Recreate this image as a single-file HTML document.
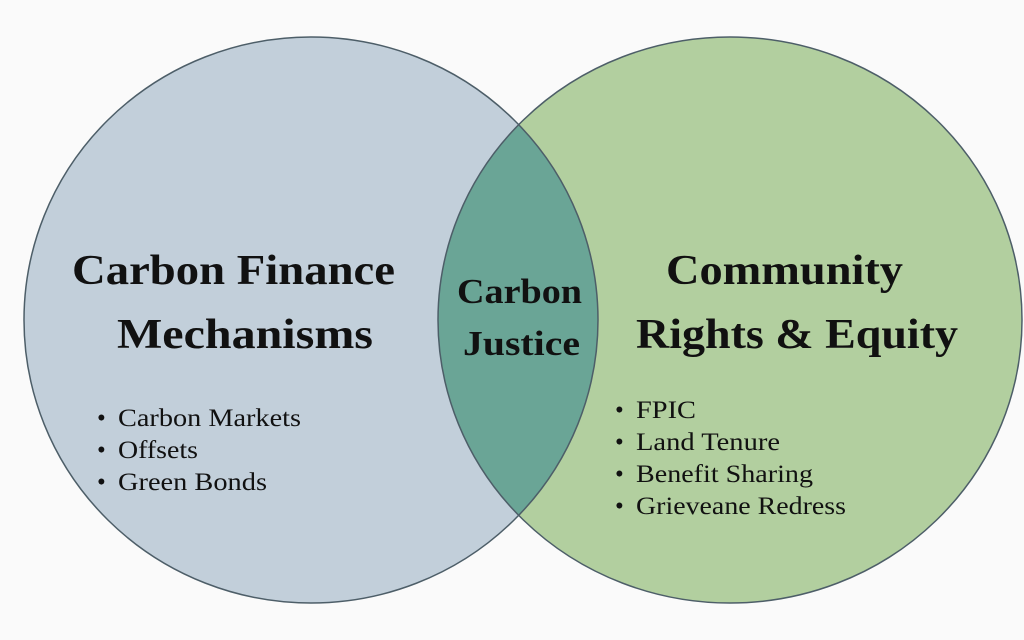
<!DOCTYPE html>
<html><head><meta charset="utf-8"><style>
html,body{margin:0;padding:0;background:#fafafa}
svg{display:block}
text{font-family:"Liberation Serif",serif;fill:#111}
.h{font-weight:bold;font-size:42px}
.c{font-weight:bold;font-size:35px}
.b{font-size:25px}
</style></head><body>
<svg width="1024" height="640" viewBox="0 0 1024 640">
<defs><clipPath id="cl"><ellipse cx="311" cy="320" rx="287" ry="283"/></clipPath></defs>
<rect width="1024" height="640" fill="#fafafa"/>
<ellipse cx="311" cy="320" rx="287" ry="283" fill="#c2cfda"/>
<ellipse cx="730" cy="320" rx="292" ry="283" fill="#b2cf9f"/>
<ellipse cx="730" cy="320" rx="292" ry="283" fill="#6aa596" clip-path="url(#cl)"/>
<ellipse cx="311" cy="320" rx="287" ry="283" fill="none" stroke="#4d5e68" stroke-width="1.5"/>
<ellipse cx="730" cy="320" rx="292" ry="283" fill="none" stroke="#4d5e68" stroke-width="1.5"/>
<text class="h" x="72" y="284" textLength="323" lengthAdjust="spacingAndGlyphs">Carbon Finance</text>
<text class="h" x="117" y="348" textLength="256" lengthAdjust="spacingAndGlyphs">Mechanisms</text>
<text class="c" x="457" y="303" textLength="125" lengthAdjust="spacingAndGlyphs">Carbon</text>
<text class="c" x="463" y="355" textLength="117" lengthAdjust="spacingAndGlyphs">Justice</text>
<text class="h" x="666" y="284" textLength="237" lengthAdjust="spacingAndGlyphs">Community</text>
<text class="h" x="636" y="348" textLength="322" lengthAdjust="spacingAndGlyphs">Rights &amp; Equity</text>
<text class="b" x="97" y="426">•</text>
<text class="b" x="97" y="458">•</text>
<text class="b" x="97" y="490">•</text>
<text class="b" x="118" y="426" textLength="183" lengthAdjust="spacingAndGlyphs">Carbon Markets</text>
<text class="b" x="118" y="458" textLength="80" lengthAdjust="spacingAndGlyphs">Offsets</text>
<text class="b" x="118" y="490" textLength="149" lengthAdjust="spacingAndGlyphs">Green Bonds</text>
<text class="b" x="615" y="418">•</text>
<text class="b" x="615" y="450">•</text>
<text class="b" x="615" y="482">•</text>
<text class="b" x="615" y="514">•</text>
<text class="b" x="636" y="418" textLength="60" lengthAdjust="spacingAndGlyphs">FPIC</text>
<text class="b" x="636" y="450" textLength="144" lengthAdjust="spacingAndGlyphs">Land Tenure</text>
<text class="b" x="636" y="482" textLength="177" lengthAdjust="spacingAndGlyphs">Benefit Sharing</text>
<text class="b" x="636" y="514" textLength="210" lengthAdjust="spacingAndGlyphs">Grieveane Redress</text>
</svg>
</body></html>
